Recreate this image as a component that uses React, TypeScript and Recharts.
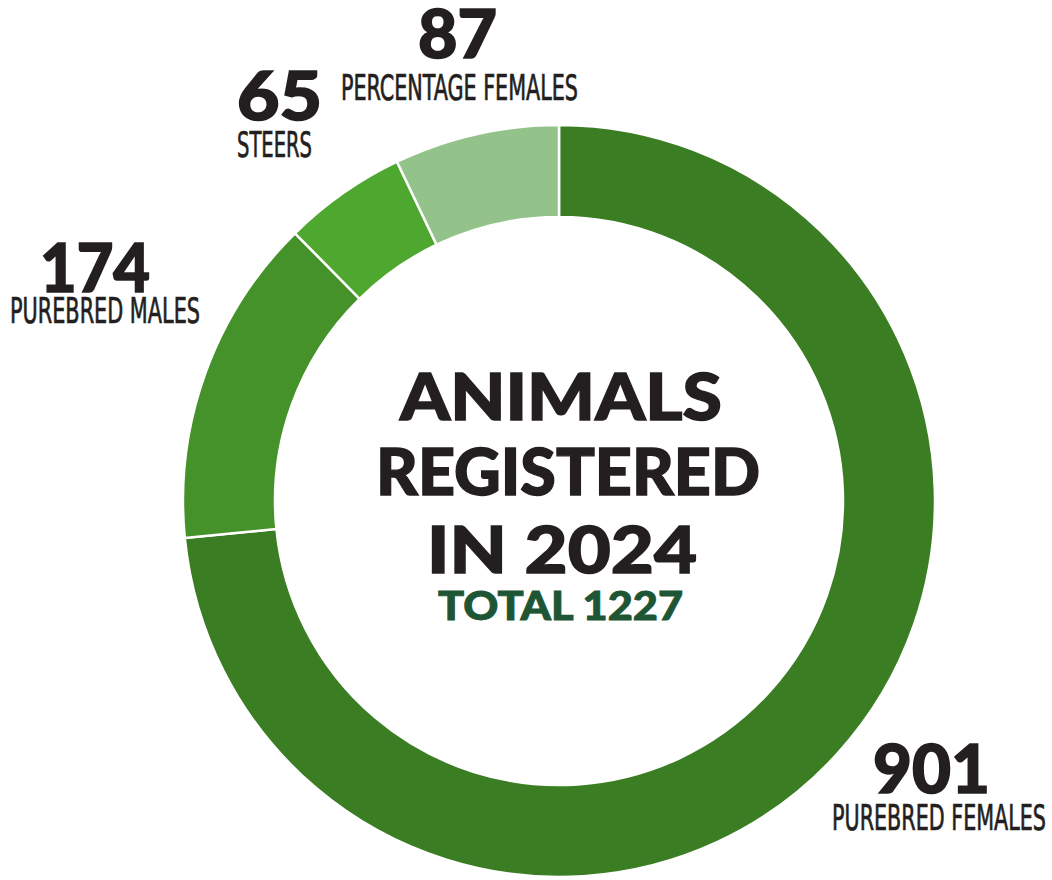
import { Pie, PieChart, Cell } from "recharts";

const NAMES = ["PUREBRED FEMALES", "PUREBRED MALES", "STEERS", "PERCENTAGE FEMALES"];
const VALUES = [901, 174, 65, 87];
const COLORS = ["#3b7d23", "#45922b", "#4ea72e", "#93c38b"];
const TITLE_LINES = ["ANIMALS", "REGISTERED", "IN 2024"];
const TOTAL_LABEL = "TOTAL";

const data = NAMES.map((name, i) => ({ name, value: VALUES[i] }));
const total = VALUES.reduce((a, b) => a + b, 0);

// label layout per slice: number box + caption box (left x, baseline y, width)
const LABEL_POS = [
  { num: [873, 793, 117], cap: [832, 830, 214] },
  { num: [40, 292, 110], cap: [10, 323, 190] },
  { num: [237, 120, 85], cap: [237, 157, 75] },
  { num: [418, 58, 79], cap: [341, 100, 237] },
];

const heavy = "Lato, 'DejaVu Sans', sans-serif";
const narrow = "'Liberation Sans Narrow', 'DejaVu Sans Condensed', sans-serif";
const ink = "#231f20";

function renderLabel(props: any) {
  const p = LABEL_POS[props.index];
  if (!p) return null;
  return (
    <g key={`lbl-${props.index}`}>
      <text x={p.num[0]} y={p.num[1]} textLength={p.num[2]} lengthAdjust="spacingAndGlyphs"
        fill={ink} stroke={ink} strokeWidth={1.6} fontFamily={heavy} fontWeight={900} fontSize={66}>
        {props.value}
      </text>
      <text x={p.cap[0]} y={p.cap[1]} textLength={p.cap[2]} lengthAdjust="spacingAndGlyphs"
        fill={ink} stroke={ink} strokeWidth={0.7} fontFamily={narrow} fontSize={35}>
        {props.name}
      </text>
    </g>
  );
}

const TITLE_POS = [
  [400, 420, 322],
  [376, 495, 384],
  [427, 573, 270],
];

export default function App() {
  return (
    <div style={{ position: "absolute", left: 0, top: 0, width: 1052, height: 880, background: "#fff" }}>
      <PieChart width={1052} height={880} margin={{ top: 0, right: 0, bottom: 0, left: 0 }}>
        <Pie
          data={data}
          dataKey="value"
          nameKey="name"
          cx={559}
          cy={501}
          innerRadius={284}
          outerRadius={376}
          startAngle={90}
          endAngle={-270}
          stroke="#ffffff"
          strokeWidth={2.5}
          label={renderLabel}
          labelLine={false}
          isAnimationActive={false}
        >
          {data.map((d, i) => (
            <Cell key={d.name} fill={COLORS[i]} />
          ))}
        </Pie>
      </PieChart>
      <svg width={1052} height={880} style={{ position: "absolute", left: 0, top: 0, pointerEvents: "none" }}>
        {TITLE_LINES.map((line, i) => (
          <text key={line} x={TITLE_POS[i][0]} y={TITLE_POS[i][1]} textLength={TITLE_POS[i][2]}
            lengthAdjust="spacingAndGlyphs" fill={ink} stroke={ink} strokeWidth={1.4}
            fontFamily={heavy} fontWeight={900} fontSize={65}>
            {line}
          </text>
        ))}
        <text x={438} y={620} textLength={245} lengthAdjust="spacingAndGlyphs"
          fill="#1e5535" stroke="#1e5535" strokeWidth={0.9} fontFamily={heavy} fontWeight={900} fontSize={39}>
          {`${TOTAL_LABEL} ${total}`}
        </text>
      </svg>
    </div>
  );
}
